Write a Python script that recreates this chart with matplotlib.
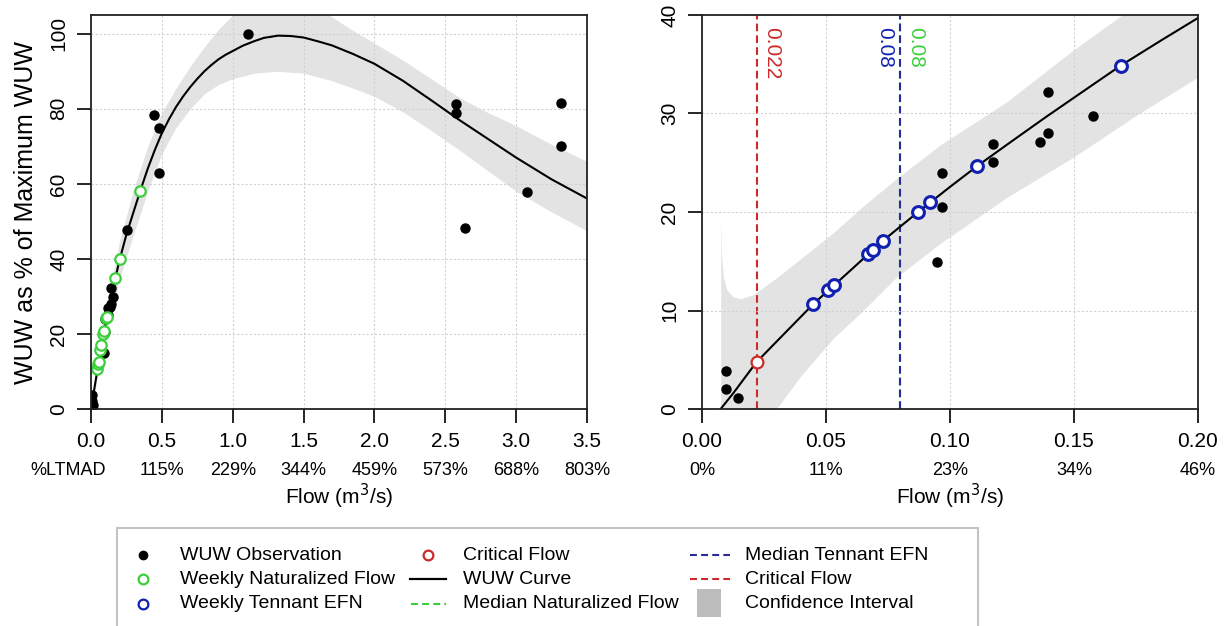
import matplotlib
matplotlib.use('Agg')
import matplotlib.pyplot as plt
from matplotlib.lines import Line2D
from matplotlib.patches import Rectangle

plt.rcParams['font.family'] = ['Liberation Sans', 'DejaVu Sans']
plt.rcParams['lines.scale_dashes'] = False

# ---------------- data ----------------
# WUW observations (shared by both panels)
obs_x = [0.0097, 0.0097, 0.0144, 0.0946, 0.0966, 0.0966, 0.1172, 0.1172, 0.1363, 0.1395, 0.1395, 0.1577,
         0.254, 0.445, 0.478, 0.48, 1.11, 2.575, 2.575, 2.639, 3.074, 3.314, 3.314]
obs_y = [3.86, 2.03, 1.09, 14.96, 23.93, 20.47, 26.9, 25.04, 27.07, 28.02, 32.15, 29.78,
         47.6, 78.4, 74.8, 63.0, 100.0, 81.2, 79.0, 48.2, 57.7, 81.5, 70.1]

# Weekly naturalized flow (left panel)
nat_x = [0.045, 0.050, 0.054, 0.066, 0.073, 0.087, 0.092, 0.107, 0.115, 0.169, 0.207, 0.346]
nat_y = [10.6, 12.0, 12.6, 15.6, 17.1, 19.9, 20.8, 24.2, 24.6, 34.8, 40.1, 58.0]

# Weekly Tennant EFN (right panel)
efn_x = [0.0449, 0.0509, 0.0531, 0.0669, 0.0691, 0.0730, 0.0870, 0.0920, 0.1110, 0.1688]
efn_y = [10.66, 12.08, 12.56, 15.74, 16.14, 17.09, 19.97, 20.98, 24.67, 34.86]

crit_x = 0.022
crit_y = 4.74
median_efn = 0.08
median_nat = 0.08

# WUW curve, left panel
lc_x = [0, 0.05, 0.1, 0.15, 0.2, 0.25, 0.3, 0.35, 0.4, 0.45, 0.5, 0.55, 0.6, 0.65, 0.7, 0.75, 0.8, 0.85,
        0.9, 0.95, 1.0, 1.07, 1.15, 1.22, 1.32, 1.41, 1.5, 1.6, 1.7, 1.85, 2.0, 2.2, 2.4, 2.6, 2.8,
        3.0, 3.25, 3.5]
lc_y = [0, 11.5, 22, 31.2, 39.5, 46.5, 52.5, 58.4, 64, 69.0, 73.5, 77.2, 80.5, 83.3, 85.8, 88.0, 90.0, 91.7,
        93.2, 94.4, 95.4, 96.8, 98.0, 98.9, 99.5, 99.4, 99.0, 98.0, 96.9, 94.6, 92.0, 87.5, 82.3, 77.0, 72.0,
        67.0, 61.2, 56.1]
# confidence interval, left panel
lb_x = [0, 0.05, 0.1, 0.2, 0.3, 0.4, 0.5, 0.6, 0.7, 0.8, 0.9, 1.0, 1.15, 1.32, 1.5, 1.7, 1.85,
        2.0, 2.2, 2.4, 2.6, 2.8, 3.0, 3.25, 3.5]
lb_up = [0.8, 13.5, 25.5, 44.5, 58.5, 70, 79, 85.5, 91.3, 96.5, 101.2, 105, 108.5, 110, 109.5, 104.5, 100.8,
         97.5, 93, 88, 83, 79, 75.5, 70.5, 66]
lb_lo = [-0.8, 9.5, 18.5, 34.5, 46.5, 58, 68, 75, 80, 84, 86.5, 88, 89.5, 90, 89.5, 87.5, 85.5,
         83.3, 79.2, 74.2, 69, 63.5, 58, 52.5, 47.5]

# WUW curve, right panel
rc_x = [0.0075, 0.0126, 0.0219, 0.0330, 0.0449, 0.0600, 0.0730, 0.0870, 0.1000, 0.1110, 0.1250,
        0.1390, 0.1540, 0.1688, 0.1850, 0.2000]
rc_y = [0.0, 1.6, 4.74, 7.6, 10.66, 14.1, 17.09, 19.97, 22.55, 24.67, 27.2, 29.7, 32.3, 34.86, 37.4, 39.7]
# confidence interval, right panel
rb_x = [0.00754, 0.0078, 0.0086, 0.0100, 0.0125, 0.0155, 0.0207, 0.0300, 0.0400, 0.0530, 0.0650,
        0.0785, 0.0960, 0.1230, 0.1500, 0.1750, 0.2000]
rb_up = [19.7, 16.0, 13.4, 12.1, 11.4, 11.2, 11.6, 13.3, 15.3, 17.9, 20.6, 23.4, 26.8, 31.2, 36.5, 41.0, 45.0]
rb_lo = [-8, -7, -6, -5, -4, -3.2, -2, 0.0, 3.4, 7.2, 10.0, 13.4, 16.8, 21.5, 25.6, 29.8, 33.7]

left_xticks = [0.0, 0.5, 1.0, 1.5, 2.0, 2.5, 3.0, 3.5]
left_xticklabels = ["0.0", "0.5", "1.0", "1.5", "2.0", "2.5", "3.0", "3.5"]
left_pct = ["%LTMAD", "115%", "229%", "344%", "459%", "573%", "688%", "803%"]
left_yticks = [0, 20, 40, 60, 80, 100]
right_xticks = [0.0, 0.05, 0.10, 0.15, 0.20]
right_xticklabels = ["0.00", "0.05", "0.10", "0.15", "0.20"]
right_pct = ["0%", "11%", "23%", "34%", "46%"]
right_yticks = [0, 10, 20, 30, 40]

# ---------------- style ----------------
GREEN = '#3ccf3c'
BLUE = '#1020b0'
BLUE_LINE = '#2a2a9a'
RED = '#cc2a2a'
BAND = '#e3e3e3'
GRID = '#d0d0d0'
TICK_FS = 15
PCT_FS = 13

W, H = 1231, 626
fig = plt.figure(figsize=(W / 100, H / 100), dpi=100)


def fx(px):
    return px / W


def fy(py):
    return 1 - py / H


ax1 = fig.add_axes([fx(91), fy(409), 496 / W, 394 / H])
ax2 = fig.add_axes([fx(702), fy(409), 496 / W, 394 / H])


def style_axes(ax, xticks, xlabels, pct, yticks):
    ax.set_xticks(xticks)
    ax.set_xticklabels(xlabels)
    ax.set_yticks(yticks)
    ax.set_yticklabels([str(v) for v in yticks])
    ax.tick_params(axis='both', direction='out', length=10, width=1.2, labelsize=TICK_FS, pad=6.5)
    for lab in ax.get_yticklabels():
        lab.set_rotation(90)
        lab.set_va('center')
    for sp in ax.spines.values():
        sp.set_linewidth(1.3)
        sp.set_color('#222222')
        sp.set_zorder(6)
    ax.grid(True, color=GRID, linestyle=(0, (1.5, 1.5)), linewidth=0.8, zorder=1.5)
    ax.set_axisbelow(False)
    for i, (t, s) in enumerate(zip(xticks, pct)):
        if i == 0 and not s.endswith('%'):
            ax.annotate(s, xy=(t, 0), xycoords=('data', 'axes fraction'),
                        xytext=(10.5, -38), textcoords='offset points',
                        ha='right', va='top', fontsize=PCT_FS)
        else:
            ax.annotate(s, xy=(t, 0), xycoords=('data', 'axes fraction'),
                        xytext=(0, -38), textcoords='offset points',
                        ha='center', va='top', fontsize=PCT_FS)
    ax.set_xlabel('Flow (m$^3$/s)', fontsize=TICK_FS, labelpad=22)


# ---- left panel ----
ax1.fill_between(lb_x, lb_lo, lb_up, color=BAND, linewidth=0, zorder=1)
ax1.plot(lc_x, lc_y, color='black', lw=1.5, zorder=3)
ax1.plot(obs_x, obs_y, 'o', color='black', ms=6.5, zorder=4)
ax1.plot(nat_x, nat_y, 'o', mfc='white', mec=GREEN, mew=1.6, ms=7.5, zorder=5)
ax1.set_xlim(0, 3.5)
ax1.set_ylim(0, 105)
style_axes(ax1, left_xticks, left_xticklabels, left_pct, left_yticks)
ax1.set_ylabel('WUW as % of Maximum WUW', fontsize=18, labelpad=8)

# ---- right panel ----
ax2.fill_between(rb_x, rb_lo, rb_up, color=BAND, linewidth=0, zorder=1)
ax2.plot(rc_x, rc_y, color='black', lw=1.5, zorder=3)
ax2.axvline(median_nat, color=GREEN, lw=1.5, dashes=(5.5, 3), zorder=2)
ax2.axvline(median_efn, color=BLUE_LINE, lw=1.5, dashes=(5.5, 3), zorder=2.1)
ax2.axvline(crit_x, color=RED, lw=1.5, dashes=(5.5, 3), zorder=2)
ax2.plot(obs_x, obs_y, 'o', color='black', ms=6.5, zorder=4)
ax2.plot(efn_x, efn_y, 'o', mfc='white', mec=BLUE, mew=2.2, ms=8.5, zorder=5)
ax2.plot([crit_x], [crit_y], 'o', mfc='white', mec=RED, mew=1.6, ms=8.5, zorder=5)
ax2.text(crit_x + 0.0022, 38.8, f'{crit_x:g}', color=RED, rotation=-90, ha='left', va='top', fontsize=TICK_FS)
ax2.text(median_efn - 0.0025, 38.8, f'{median_efn:g}', color=BLUE, rotation=-90, ha='right', va='top', fontsize=TICK_FS)
ax2.text(median_nat + 0.0025, 38.8, f'{median_nat:g}', color=GREEN, rotation=-90, ha='left', va='top', fontsize=TICK_FS)
ax2.set_xlim(0, 0.2)
ax2.set_ylim(0, 40)
style_axes(ax2, right_xticks, right_xticklabels, right_pct, right_yticks)

# ---- legend (manual, figure pixel coordinates) ----
fig.add_artist(Rectangle((fx(117), fy(640)), (978 - 117) / W, (640 - 528) / H,
                         transform=fig.transFigure, facecolor='white', edgecolor='#c4c4c4', lw=1.5))
rows = [555, 579, 604]
LEG_FS = 14


def leg_marker(px, py, **kw):
    fig.add_artist(Line2D([fx(px)], [fy(py)], transform=fig.transFigure, linestyle='None', marker='o', **kw))


def leg_line(x0, x1, py, **kw):
    fig.add_artist(Line2D([fx(x0), fx(x1)], [fy(py), fy(py)], transform=fig.transFigure, **kw))


def leg_text(px, py, s):
    fig.text(fx(px), fy(py), s, ha='left', va='center', fontsize=LEG_FS)


leg_marker(143, rows[0], color='black', ms=6)
leg_text(180, rows[0], 'WUW Observation')
leg_marker(143, rows[1], mfc='white', mec=GREEN, mew=1.6, ms=7)
leg_text(180, rows[1], 'Weekly Naturalized Flow')
leg_marker(143, rows[2], mfc='white', mec=BLUE, mew=1.6, ms=7)
leg_text(180, rows[2], 'Weekly Tennant EFN')

leg_marker(428, rows[0], mfc='white', mec=RED, mew=1.6, ms=7)
leg_text(463, rows[0], 'Critical Flow')
leg_line(410, 446, rows[1], color='black', lw=1.6)
leg_text(463, rows[1], 'WUW Curve')
leg_line(411, 446, rows[2], color=GREEN, lw=1.5, dashes=(5, 3))
leg_text(463, rows[2], 'Median Naturalized Flow')

leg_line(690, 730, rows[0], color=BLUE_LINE, lw=1.5, dashes=(5, 3))
leg_text(745, rows[0], 'Median Tennant EFN')
leg_line(690, 730, rows[1], color=RED, lw=1.5, dashes=(5, 3))
leg_text(745, rows[1], 'Critical Flow')
fig.add_artist(Rectangle((fx(697), fy(617)), 24 / W, 28 / H, transform=fig.transFigure,
                         facecolor='#bdbdbd', edgecolor='none'))
leg_text(745, rows[2], 'Confidence Interval')

fig.savefig('out.png', dpi=100)
